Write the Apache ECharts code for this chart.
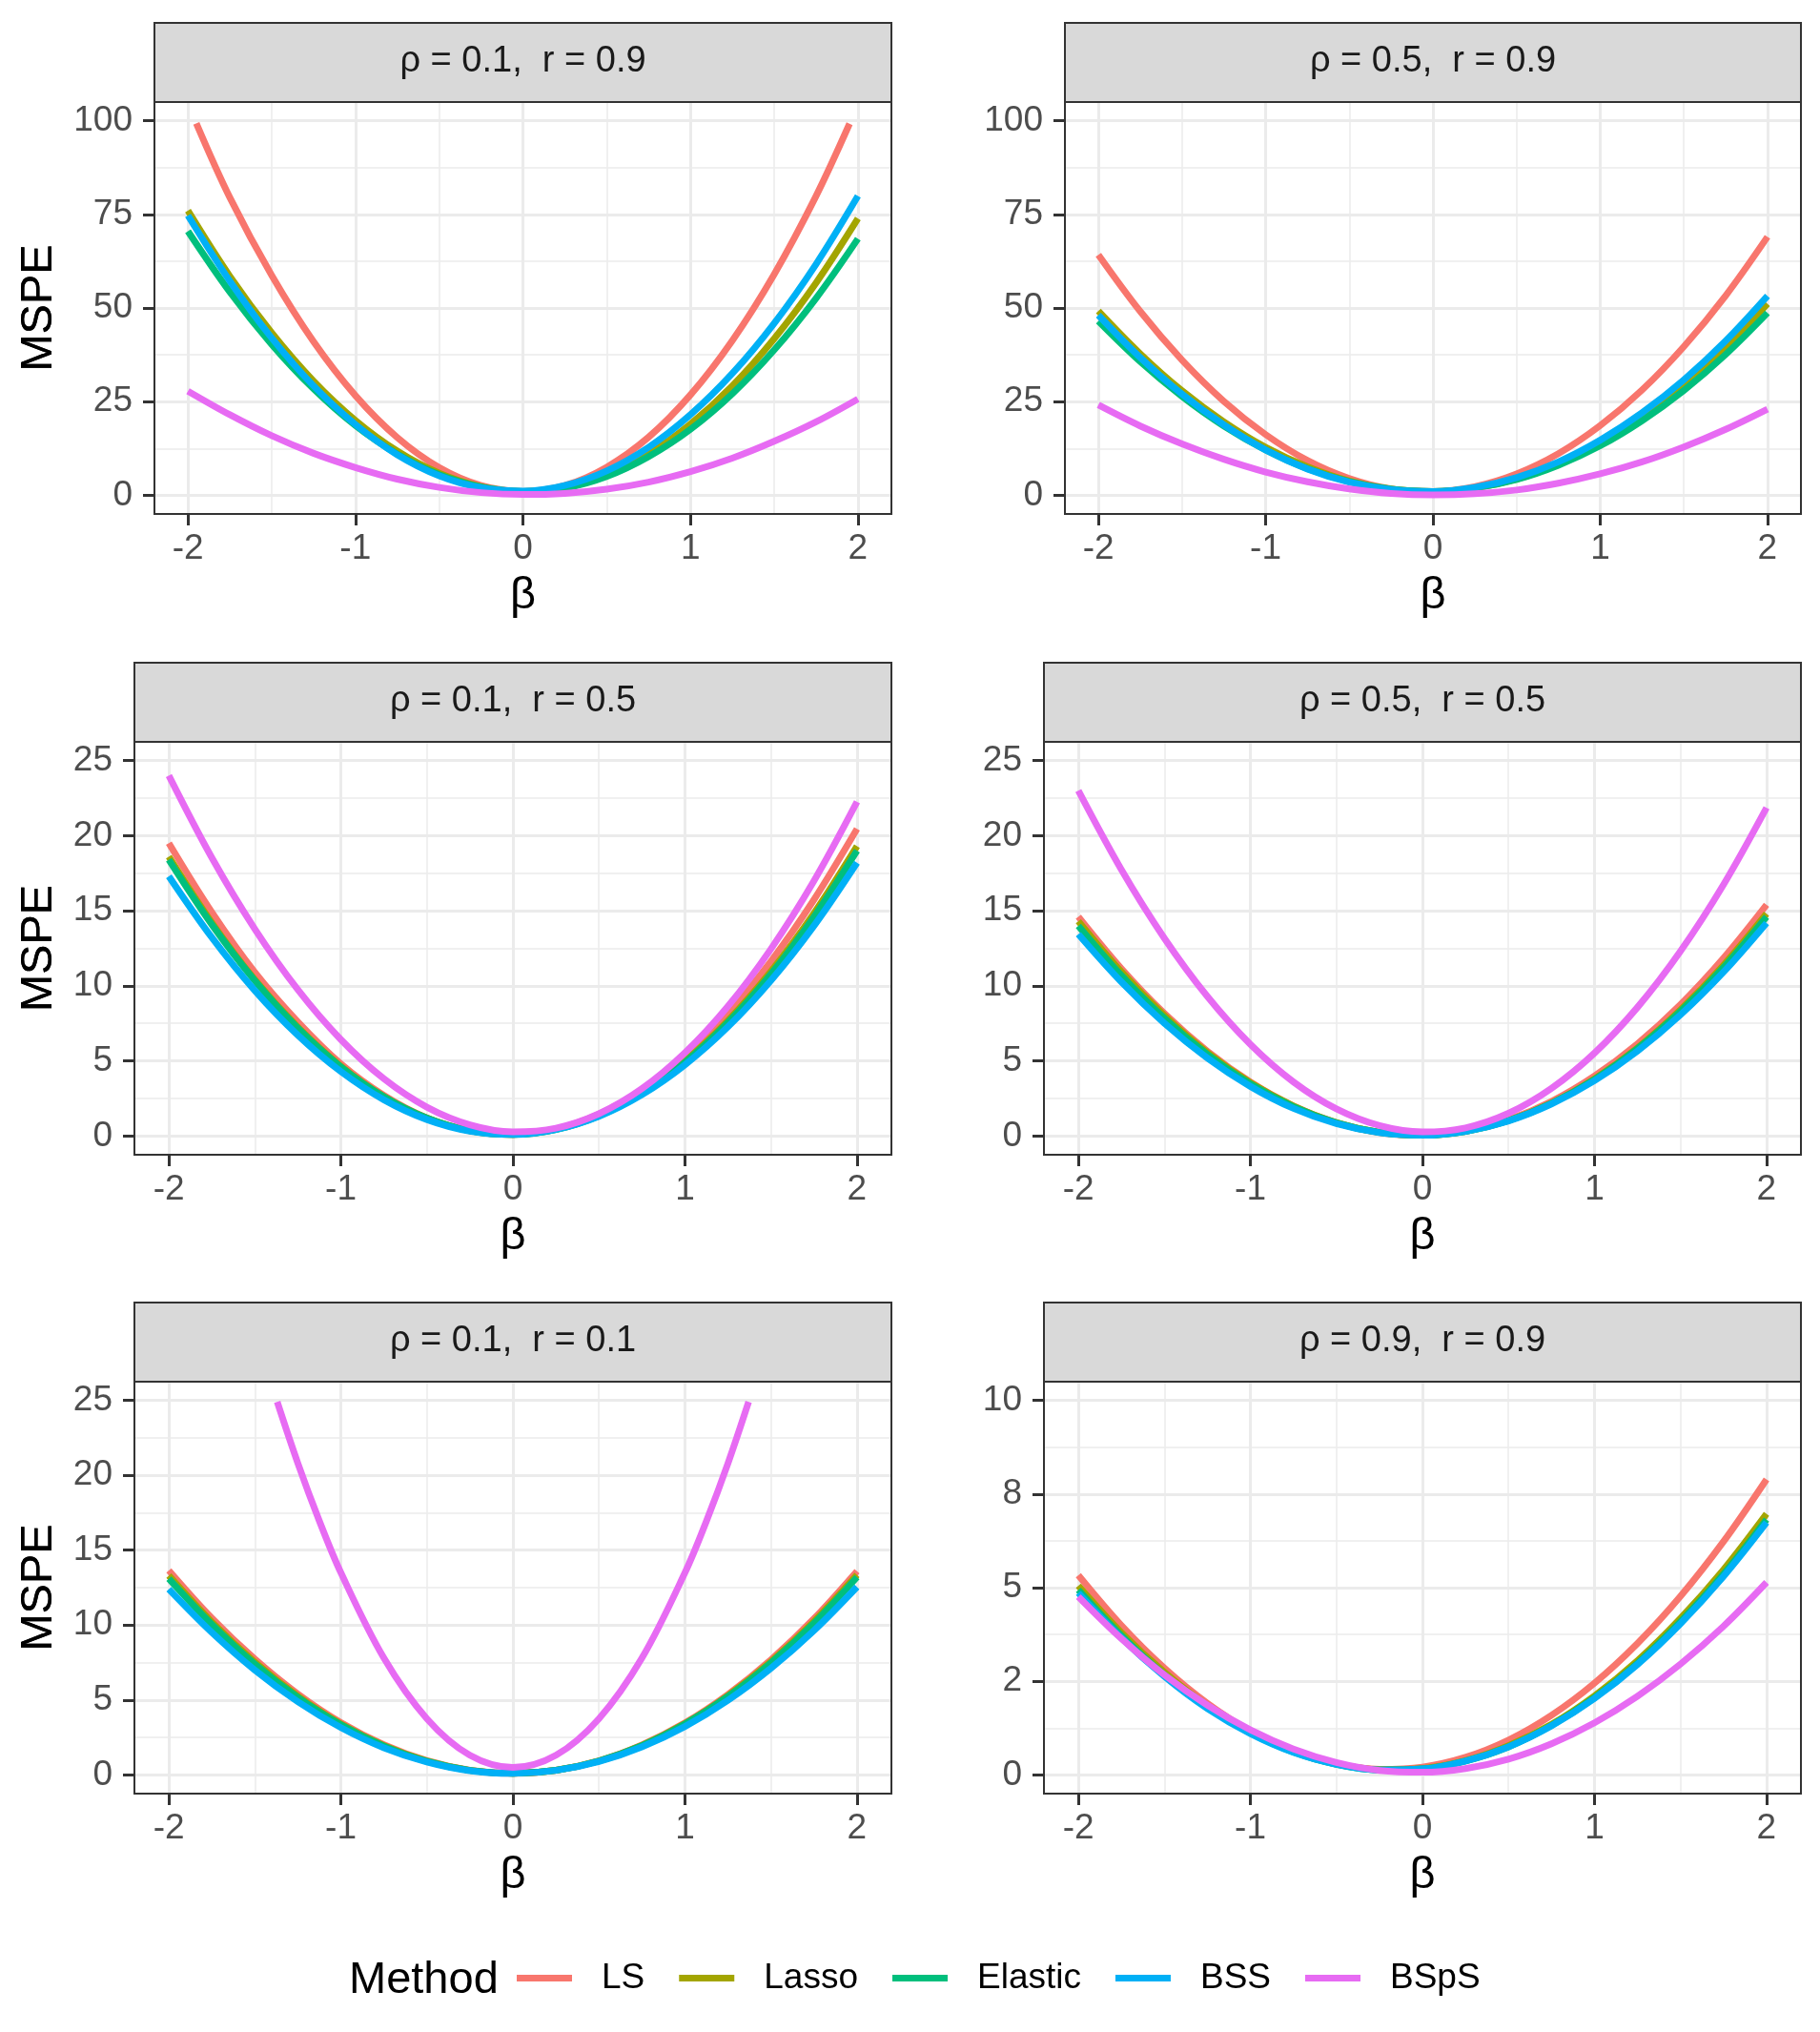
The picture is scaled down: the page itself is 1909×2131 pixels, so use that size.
<!DOCTYPE html>
<html>
<head>
<meta charset="utf-8">
<title>MSPE</title>
<script src="https://cdn.jsdelivr.net/npm/echarts@6/dist/echarts.min.js"></script>
<style>
  html, body { margin: 0; padding: 0; background: #ffffff; }
  #chart { width: 1909px; height: 2131px; }
</style>
</head>
<body>
<div id="chart"></div>
<script>
// methods and colours (ggplot hue palette)
const methods = ['LS', 'Lasso', 'Elastic', 'BSS', 'BSpS'];
const methodColors = ['#F8766D', '#A3A500', '#00BF7D', '#00B0F6', '#E76BF3'];

const panelTitles = [
  'ρ = 0.1,  r = 0.9', 'ρ = 0.5,  r = 0.9',
  'ρ = 0.1,  r = 0.5', 'ρ = 0.5,  r = 0.5',
  'ρ = 0.1,  r = 0.1', 'ρ = 0.9,  r = 0.9'
];

// beta grid and tick values
const beta = [-2, -1.75, -1.5, -1.25, -1, -0.75, -0.5, -0.25, 0, 0.25, 0.5, 0.75, 1, 1.25, 1.5, 1.75, 2];
const betaTicks = [-2, -1, 0, 1, 2];
const yTicksTop = [0, 25, 50, 75, 100];
const yTicksMid = [0, 5, 10, 15, 20, 25];
const yTicks6 = [0, 2.5, 5, 7.5, 10];
const yTickLabels6 = ['0', '2', '5', '8', '10'];

// rho = 0.1, r = 0.9  (LS leaves the y range past |beta| = 1.95)
const betaLS1 = [-1.95, -1.75, -1.5, -1.25, -1, -0.75, -0.5, -0.25, 0, 0.25, 0.5, 0.75, 1, 1.25, 1.5, 1.75, 1.95];
const p1LS      = [99.3, 79.5, 58.7, 41.0, 26.6, 15.4, 7.4, 2.6, 1.0, 2.6, 7.5, 15.5, 26.8, 41.3, 59.0, 79.9, 99.2];
const p1Lasso   = [76.0, 58.5, 43.4, 30.5, 20.0, 11.8, 5.9, 2.3, 1.0, 2.0, 5.4, 11.0, 19.0, 29.2, 41.8, 56.7, 73.9];
const p1Elastic = [70.5, 54.3, 40.3, 28.4, 18.6, 11.0, 5.5, 2.2, 1.0, 1.9, 5.0, 10.3, 17.6, 27.1, 38.8, 52.6, 68.5];
const p1BSS     = [74.7, 57.2, 42.0, 29.2, 18.9, 10.8, 5.2, 2.0, 1.1, 2.6, 6.5, 12.8, 21.5, 32.5, 45.9, 61.7, 79.9];
const p1BSpS    = [27.8, 21.5, 15.9, 11.2, 7.4, 4.3, 2.1, 0.7, 0.2, 0.5, 1.6, 3.5, 6.3, 9.9, 14.4, 19.6, 25.7];

// rho = 0.5, r = 0.9
const p2LS      = [64.2, 49.1, 36.1, 25.1, 16.2, 9.3, 4.5, 1.7, 1.0, 2.3, 5.7, 11.1, 18.6, 28.1, 39.7, 53.3, 69.0];
const p2Lasso   = [49.2, 37.8, 27.9, 19.6, 12.8, 7.6, 3.8, 1.6, 1.0, 1.9, 4.3, 8.3, 13.8, 20.8, 29.4, 39.5, 51.1];
const p2Elastic = [46.5, 35.7, 26.4, 18.5, 12.1, 7.1, 3.6, 1.6, 1.0, 1.9, 4.2, 8.0, 13.2, 19.9, 28.0, 37.6, 48.7];
const p2BSS     = [48.1, 36.8, 27.0, 18.8, 12.1, 7.0, 3.5, 1.5, 1.0, 2.1, 4.7, 8.9, 14.7, 22.0, 30.8, 41.2, 53.2];
const p2BSpS    = [24.1, 18.5, 13.7, 9.6, 6.2, 3.6, 1.7, 0.5, 0.1, 0.4, 1.4, 3.2, 5.7, 8.9, 12.9, 17.6, 23.0];

// rho = 0.1, r = 0.5
const p3LS      = [19.5, 14.9, 10.9, 7.6, 4.8, 2.7, 1.2, 0.35, 0.1, 0.47, 1.46, 3.08, 5.31, 8.17, 11.64, 15.74, 20.45];
const p3Lasso   = [18.6, 14.2, 10.4, 7.24, 4.64, 2.62, 1.19, 0.35, 0.1, 0.44, 1.37, 2.88, 4.99, 7.68, 10.96, 14.83, 19.3];
const p3Elastic = [18.4, 14.08, 10.34, 7.18, 4.6, 2.61, 1.19, 0.35, 0.1, 0.43, 1.34, 2.83, 4.9, 7.56, 10.79, 14.6, 19.0];
const p3BSS     = [17.3, 13.22, 9.68, 6.71, 4.29, 2.41, 1.09, 0.32, 0.1, 0.43, 1.31, 2.75, 4.74, 7.27, 10.36, 14.0, 18.2];
const p3BSpS    = [24.0, 18.53, 13.78, 9.74, 6.42, 3.81, 1.92, 0.74, 0.27, 0.52, 1.48, 3.15, 5.54, 8.64, 12.46, 16.99, 22.25];

// rho = 0.5, r = 0.5
const p4LS      = [14.6, 11.15, 8.16, 5.64, 3.59, 2.0, 0.88, 0.23, 0.05, 0.33, 1.08, 2.3, 3.99, 6.14, 8.76, 11.85, 15.4];
const p4Lasso   = [14.3, 10.93, 8.02, 5.55, 3.55, 2.0, 0.89, 0.25, 0.05, 0.31, 1.02, 2.18, 3.8, 5.87, 8.4, 11.37, 14.8];
const p4Elastic = [14.0, 10.7, 7.84, 5.43, 3.46, 1.94, 0.87, 0.24, 0.05, 0.31, 1.02, 2.17, 3.76, 5.81, 8.3, 11.22, 14.6];
const p4BSS     = [13.44, 10.26, 7.51, 5.19, 3.3, 1.84, 0.82, 0.22, 0.05, 0.31, 1.0, 2.13, 3.68, 5.66, 8.07, 10.92, 14.19];
const p4BSpS    = [23.0, 17.74, 13.17, 9.29, 6.1, 3.6, 1.8, 0.69, 0.27, 0.54, 1.51, 3.17, 5.52, 8.57, 12.31, 16.74, 21.86];

// rho = 0.1, r = 0.1  (BSpS leaves the y range past |beta| = 1.37)
const p5LS      = [13.65, 10.47, 7.73, 5.4, 3.49, 2.01, 0.95, 0.31, 0.1, 0.31, 0.94, 2.0, 3.47, 5.37, 7.69, 10.43, 13.6];
const p5Lasso   = [13.3, 10.2, 7.52, 5.25, 3.39, 1.95, 0.92, 0.3, 0.1, 0.31, 0.93, 1.97, 3.42, 5.29, 7.56, 10.24, 13.35];
const p5Elastic = [13.1, 10.05, 7.4, 5.17, 3.34, 1.92, 0.9, 0.3, 0.1, 0.31, 0.93, 1.95, 3.39, 5.23, 7.48, 10.13, 13.2];
const p5BSS     = [12.4, 9.51, 7.0, 4.89, 3.16, 1.81, 0.86, 0.28, 0.1, 0.3, 0.89, 1.87, 3.23, 4.98, 7.12, 9.64, 12.55];
const betaBSpS5 = [-1.37, -1.25, -1.125, -1, -0.75, -0.5, -0.25, 0, 0.25, 0.5, 0.75, 1, 1.125, 1.25, 1.37];
const p5BSpS    = [24.9, 20.8, 16.95, 13.5, 7.8, 3.75, 1.31, 0.5, 1.31, 3.75, 7.8, 13.5, 16.95, 20.8, 24.9];

// rho = 0.9, r = 0.9
const p6LS      = [5.33, 3.99, 2.85, 1.91, 1.17, 0.63, 0.29, 0.15, 0.21, 0.47, 0.93, 1.59, 2.45, 3.51, 4.77, 6.23, 7.89];
const p6Lasso   = [5.05, 3.8, 2.74, 1.85, 1.15, 0.63, 0.3, 0.14, 0.17, 0.38, 0.78, 1.35, 2.11, 3.05, 4.18, 5.48, 6.97];
const p6Elastic = [4.94, 3.72, 2.67, 1.8, 1.12, 0.61, 0.28, 0.13, 0.16, 0.37, 0.75, 1.32, 2.06, 2.98, 4.09, 5.36, 6.82];
const p6BSS     = [4.86, 3.66, 2.63, 1.77, 1.1, 0.6, 0.28, 0.13, 0.16, 0.37, 0.75, 1.31, 2.04, 2.95, 4.04, 5.30, 6.74];
const p6BSpS    = [4.76, 3.64, 2.67, 1.86, 1.2, 0.69, 0.33, 0.12, 0.07, 0.17, 0.42, 0.83, 1.39, 2.1, 2.96, 3.97, 5.14];

const FONT = "'Liberation Sans', Arial, Helvetica, sans-serif";

// scale settings per panel, built from the arrays above
const panels = [
  { yMin: -5, yMax: 105, step: 25, yTicks: yTicksTop, yLabels: yTicksTop.map(String),
    lines: [[betaLS1, p1LS], [beta, p1Lasso], [beta, p1Elastic], [beta, p1BSS], [beta, p1BSpS]] },
  { yMin: -5, yMax: 105, step: 25, yTicks: yTicksTop, yLabels: yTicksTop.map(String),
    lines: [[beta, p2LS], [beta, p2Lasso], [beta, p2Elastic], [beta, p2BSS], [beta, p2BSpS]] },
  { yMin: -1.25, yMax: 26.25, step: 5, yTicks: yTicksMid, yLabels: yTicksMid.map(String),
    lines: [[beta, p3LS], [beta, p3Lasso], [beta, p3Elastic], [beta, p3BSS], [beta, p3BSpS]] },
  { yMin: -1.25, yMax: 26.25, step: 5, yTicks: yTicksMid, yLabels: yTicksMid.map(String),
    lines: [[beta, p4LS], [beta, p4Lasso], [beta, p4Elastic], [beta, p4BSS], [beta, p4BSpS]] },
  { yMin: -1.25, yMax: 26.25, step: 5, yTicks: yTicksMid, yLabels: yTicksMid.map(String),
    lines: [[beta, p5LS], [beta, p5Lasso], [beta, p5Elastic], [beta, p5BSS], [betaBSpS5, p5BSpS]] },
  { yMin: -0.5, yMax: 10.5, step: 2.5, yTicks: yTicks6, yLabels: yTickLabels6,
    lines: [[beta, p6LS], [beta, p6Lasso], [beta, p6Elastic], [beta, p6BSS], [beta, p6BSpS]] }
];

// panel boxes in pixels
const layout = [
  { left: 162, top: 107, width: 773, height: 432 },
  { left: 1117, top: 107, width: 772, height: 432 },
  { left: 141, top: 778, width: 794, height: 433 },
  { left: 1095, top: 778, width: 794, height: 433 },
  { left: 141, top: 1449, width: 794, height: 432 },
  { left: 1095, top: 1449, width: 794, height: 432 }
];
const STRIP_H = 83;
const MSPE_X = 41;           // centre of the rotated y title

const zip = (xs, ys) => xs.map((x, k) => [x, ys[k]]);

const grids = [], xAxes = [], yAxes = [], series = [], graphics = [];

panels.forEach((p, i) => {
  const g = layout[i];
  grids.push({ left: g.left, top: g.top, width: g.width, height: g.height, containLabel: false });

  xAxes.push({
    type: 'value', gridIndex: i, position: 'bottom',
    min: -2.2, max: 2.2, minInterval: 1, maxInterval: 1,
    name: 'β', nameLocation: 'middle', nameGap: 63,
    nameTextStyle: { fontSize: 47, color: '#000000', fontFamily: FONT },
    axisLine: { show: false, onZero: false },
    axisTick: { show: true, length: 12, customValues: betaTicks, lineStyle: { color: '#333333', width: 3 } },
    axisLabel: { customValues: betaTicks, fontSize: 37, color: '#4D4D4D', margin: 18, fontFamily: FONT },
    splitLine: { show: true, lineStyle: { color: '#EBEBEB', width: 3 } },
    minorTick: { show: false, splitNumber: 2 },
    minorSplitLine: { show: true, lineStyle: { color: '#EBEBEB', width: 1.5 } }
  });

  yAxes.push({
    type: 'value', gridIndex: i, position: 'left',
    min: p.yMin, max: p.yMax, minInterval: p.step, maxInterval: p.step,
    name: 'MSPE', nameLocation: 'middle', nameRotate: 90, nameGap: g.left - MSPE_X - 24,
    nameTextStyle: { fontSize: 47, color: '#000000', fontFamily: FONT },
    axisLine: { show: false, onZero: false },
    axisTick: { show: true, length: 12, customValues: p.yTicks, lineStyle: { color: '#333333', width: 3 } },
    axisLabel: {
      customValues: p.yTicks, fontSize: 37, color: '#4D4D4D', margin: 23, fontFamily: FONT,
      formatter: v => p.yLabels[p.yTicks.indexOf(v)]
    },
    splitLine: { show: true, lineStyle: { color: '#EBEBEB', width: 3 } },
    minorTick: { show: false, splitNumber: 2 },
    minorSplitLine: { show: true, lineStyle: { color: '#EBEBEB', width: 1.5 } }
  });

  p.lines.forEach((ln, k) => {
    series.push({
      type: 'line', name: methods[k], xAxisIndex: i, yAxisIndex: i,
      data: zip(ln[0], ln[1]),
      showSymbol: false, symbol: 'none', smooth: 0.35,
      lineStyle: { width: 7, color: methodColors[k] },
      itemStyle: { color: methodColors[k] },
      emphasis: { disabled: true }
    });
  });

  // facet strip
  graphics.push({
    type: 'rect', z: 100,
    shape: { x: g.left, y: g.top - STRIP_H, width: g.width, height: STRIP_H },
    style: { fill: '#D9D9D9', stroke: '#333333', lineWidth: 2 }
  });
  graphics.push({
    type: 'text', z: 101, x: g.left + g.width / 2, y: g.top - STRIP_H / 2 - 1,
    style: {
      text: panelTitles[i], fontSize: 38, fontFamily: FONT, fill: '#1A1A1A',
      align: 'center', verticalAlign: 'middle', textAlign: 'center', textVerticalAlign: 'middle'
    }
  });
  // panel border
  graphics.push({
    type: 'rect', z: 100,
    shape: { x: g.left, y: g.top, width: g.width, height: g.height },
    style: { fill: 'none', stroke: '#333333', lineWidth: 2 }
  });
});

// legend title
graphics.push({
  type: 'text', z: 101, x: 366, y: 2077,
  style: {
    text: 'Method', fontSize: 47, fontFamily: FONT, fill: '#000000',
    align: 'left', verticalAlign: 'middle', textAlign: 'left', textVerticalAlign: 'middle'
  }
});

const chart = echarts.init(document.getElementById('chart'));
chart.setOption({
  backgroundColor: '#ffffff',
  animation: false,
  grid: grids,
  xAxis: xAxes,
  yAxis: yAxes,
  series: series,
  legend: {
    left: 542, top: 2056, padding: 0, itemGap: 36,
    itemWidth: 58, itemHeight: 7, icon: 'rect',
    data: methods,
    textStyle: { fontSize: 37, color: '#000000', fontFamily: FONT, padding: [0, 0, 0, 26] }
  },
  graphic: graphics
});
</script>
</body>
</html>
